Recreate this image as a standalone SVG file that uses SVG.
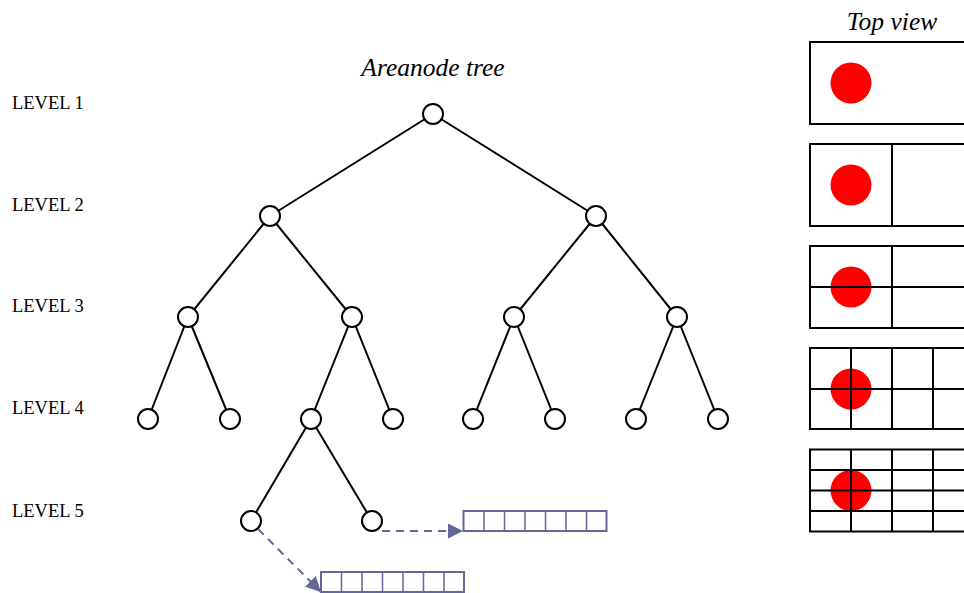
<svg xmlns="http://www.w3.org/2000/svg" width="964" height="593" viewBox="0 0 964 593">
  <style>
    .lvl { font-family: "Liberation Serif", "Times New Roman", serif; font-size: 18.5px; fill: #000; }
    .title { font-family: "Liberation Serif", "Times New Roman", serif; font-size: 25.5px; font-style: italic; fill: #000; }
    .edge { stroke: #000; stroke-width: 2; fill: none; }
    .node { fill: #fff; stroke: #000; stroke-width: 2; }
    .ptr { stroke: #666699; stroke-width: 2; stroke-dasharray: 8 6; fill: none; }
    .cell { fill: #fff; stroke: #666699; stroke-width: 2; }
    .cellsep { stroke: #666699; stroke-width: 1.5; }
    .panel { fill: #fff; stroke: #000; stroke-width: 2; }
    .grid { stroke: #000; stroke-width: 2; }
    .obj { fill: #ff0000; }
  </style>
  <defs>
    <marker id="arrow" viewBox="0 0 15 15" refX="15" refY="7.5" markerWidth="15" markerHeight="15" markerUnits="userSpaceOnUse" orient="auto">
      <path d="M0,0 L15,7.5 L0,15 Z" fill="#666699"/>
    </marker>
  </defs>

  <rect width="964" height="593" fill="#fff"/>

  <!-- level labels -->
  <g id="levels">
    <text class="lvl" x="12" y="109">LEVEL 1</text>
    <text class="lvl" x="12" y="211">LEVEL 2</text>
    <text class="lvl" x="12" y="312">LEVEL 3</text>
    <text class="lvl" x="12" y="414">LEVEL 4</text>
    <text class="lvl" x="12" y="517">LEVEL 5</text>
  </g>

  <text class="title" x="433" y="76" text-anchor="middle">Areanode tree</text>
  <text class="title" x="892" y="30" text-anchor="middle">Top view</text>

  <!-- tree edges -->
  <g id="connectors">
    <line class="edge" x1="433" y1="114" x2="270" y2="216"/>
    <line class="edge" x1="433" y1="114" x2="596" y2="216"/>
    <line class="edge" x1="270" y1="216" x2="188" y2="317"/>
    <line class="edge" x1="270" y1="216" x2="352" y2="317"/>
    <line class="edge" x1="596" y1="216" x2="514" y2="317"/>
    <line class="edge" x1="596" y1="216" x2="677" y2="317"/>
    <line class="edge" x1="188" y1="317" x2="148" y2="419"/>
    <line class="edge" x1="188" y1="317" x2="230" y2="419"/>
    <line class="edge" x1="352" y1="317" x2="311" y2="419"/>
    <line class="edge" x1="352" y1="317" x2="393" y2="419"/>
    <line class="edge" x1="514" y1="317" x2="473" y2="419"/>
    <line class="edge" x1="514" y1="317" x2="555" y2="419"/>
    <line class="edge" x1="677" y1="317" x2="636" y2="419"/>
    <line class="edge" x1="677" y1="317" x2="718" y2="419"/>
    <line class="edge" x1="311" y1="419" x2="251" y2="521"/>
    <line class="edge" x1="311" y1="419" x2="372" y2="521"/>
    <!-- pointers to entity lists -->
    <line class="ptr" x1="382" y1="531" x2="463" y2="531" marker-end="url(#arrow)"/>
    <line class="ptr" x1="258" y1="529" x2="321" y2="592" marker-end="url(#arrow)"/>
  </g>

  <!-- tree nodes -->
  <g id="n1"><circle class="node" cx="433" cy="114" r="10"/></g>
  <g id="n2a"><circle class="node" cx="270" cy="216" r="10"/></g>
  <g id="n2b"><circle class="node" cx="596" cy="216" r="10"/></g>
  <g id="n3a"><circle class="node" cx="188" cy="317" r="10"/></g>
  <g id="n3b"><circle class="node" cx="352" cy="317" r="10"/></g>
  <g id="n3c"><circle class="node" cx="514" cy="317" r="10"/></g>
  <g id="n3d"><circle class="node" cx="677" cy="317" r="10"/></g>
  <g id="n4a"><circle class="node" cx="148" cy="419" r="10"/></g>
  <g id="n4b"><circle class="node" cx="230" cy="419" r="10"/></g>
  <g id="n4c"><circle class="node" cx="311" cy="419" r="10"/></g>
  <g id="n4d"><circle class="node" cx="393" cy="419" r="10"/></g>
  <g id="n4e"><circle class="node" cx="473" cy="419" r="10"/></g>
  <g id="n4f"><circle class="node" cx="555" cy="419" r="10"/></g>
  <g id="n4g"><circle class="node" cx="636" cy="419" r="10"/></g>
  <g id="n4h"><circle class="node" cx="718" cy="419" r="10"/></g>
  <g id="n5a"><circle class="node" cx="251" cy="521" r="10"/></g>
  <g id="n5b"><circle class="node" cx="372" cy="521" r="10"/></g>

  <!-- entity lists -->
  <g id="list-right">
    <rect class="cell" x="463.5" y="511" width="143" height="20"/>
    <path class="cellsep" d="M484,511V531M504.5,511V531M525,511V531M545.5,511V531M566,511V531M586.5,511V531"/>
  </g>
  <g id="list-bottom">
    <rect class="cell" x="321" y="572" width="143" height="20"/>
    <path class="cellsep" d="M341.5,572V592M362,572V592M382.5,572V592M403,572V592M423.5,572V592M444,572V592"/>
  </g>

  <!-- top view panels -->
  <g id="panel1">
    <rect class="panel" x="810" y="42" width="200" height="82"/>
    <circle class="obj" cx="851" cy="83" r="20.5"/>
  </g>
  <g id="panel2">
    <rect class="panel" x="810" y="144" width="200" height="82"/>
    <circle class="obj" cx="851" cy="185" r="20.5"/>
    <path class="grid" d="M892,144V226"/>
  </g>
  <g id="panel3">
    <rect class="panel" x="810" y="246" width="200" height="82"/>
    <circle class="obj" cx="851" cy="287" r="20.5"/>
    <path class="grid" d="M892,246V328M810,287H964"/>
  </g>
  <g id="panel4">
    <rect class="panel" x="810" y="348" width="200" height="81"/>
    <circle class="obj" cx="851" cy="389" r="20.5"/>
    <path class="grid" d="M851,348V429M892,348V429M933,348V429M810,389H964"/>
  </g>
  <g id="panel5">
    <rect class="panel" x="810" y="449.5" width="200" height="82"/>
    <circle class="obj" cx="851" cy="490.5" r="20.5"/>
    <path class="grid" d="M851,449.5V531.5M892,449.5V531.5M933,449.5V531.5M810,470H964M810,490.5H964M810,511H964"/>
  </g>
</svg>
